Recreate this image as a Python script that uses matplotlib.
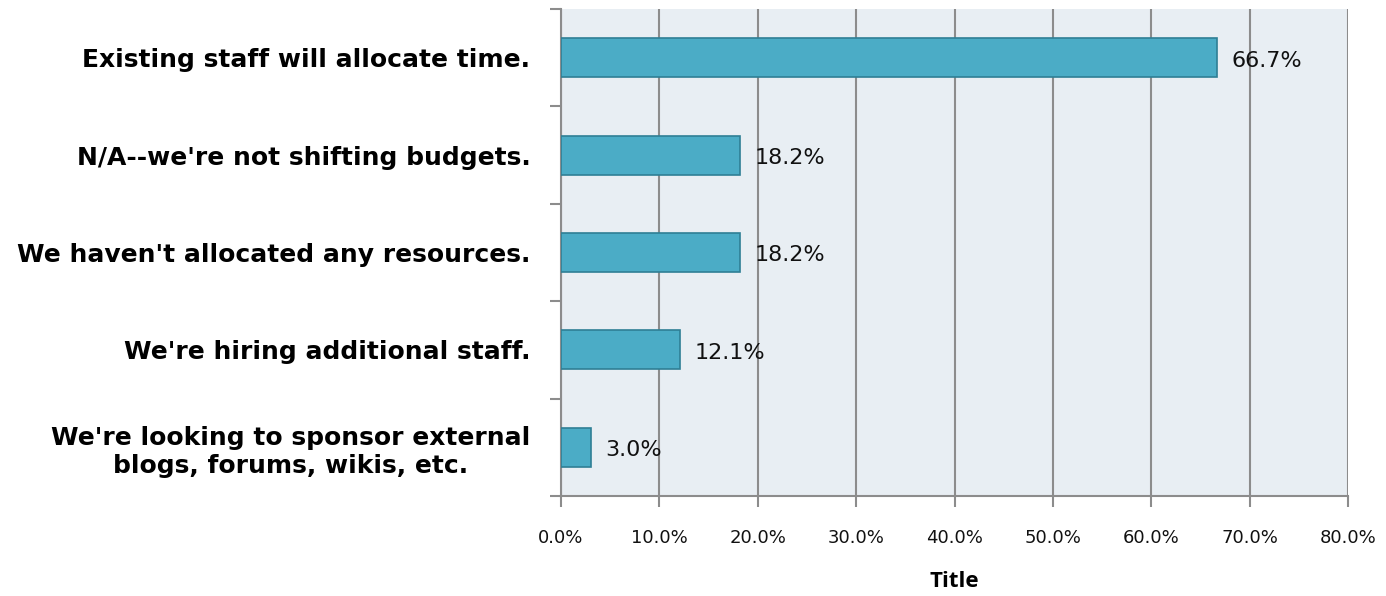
import matplotlib.pyplot as plt
import numpy as np
from matplotlib.ticker import FixedLocator, PercentFormatter

categories = [
    "Existing staff will allocate time.",
    "N/A--we're not shifting budgets.",
    "We haven't allocated any resources.",
    "We're hiring additional staff.",
    "We're looking to sponsor external\nblogs, forums, wikis, etc.",
]
values = [66.7, 18.2, 18.2, 12.1, 3.0]
x_ticks = [0, 10, 20, 30, 40, 50, 60, 70, 80]

BAR = "#4BACC6"
EDGE = "#2F7F95"
GRID = "#8C8C8C"
PLOT_BG = "#E8EEF3"

fig = plt.figure(figsize=(13.86, 5.96), dpi=100)
ax = fig.add_axes([0.4048, 0.1678, 0.5678, 0.8172])
ax.set_facecolor(PLOT_BG)

y = np.arange(len(categories))
ax.barh(y, values, height=0.4, color=BAR, edgecolor=EDGE, linewidth=1.2, zorder=3)
ax.set_ylim(len(categories) - 0.5, -0.5)
ax.set_xlim(0, 80)

# value labels just right of each bar
for yi, v in zip(y, values):
    ax.text(v + 1.5, yi + 0.03, f"{v:.1f}%", va="center", ha="left", fontsize=16,
            family="DejaVu Sans", color="#111111", zorder=4)

ax.set_yticks(y)
ax.set_yticklabels(categories, fontsize=18, fontweight="bold", family="DejaVu Sans",
                   multialignment="center", color="#000000")
# tick marks sit between categories
ax.yaxis.set_minor_locator(FixedLocator(np.arange(-0.5, len(categories), 1.0)))
ax.tick_params(axis="y", which="major", length=0, pad=22)
ax.tick_params(axis="y", which="minor", length=8, width=1.5, color=GRID)

ax.set_xticks(x_ticks)
ax.xaxis.set_major_formatter(PercentFormatter(decimals=1))
ax.tick_params(axis="x", length=8, width=1.5, color=GRID, labelsize=13, pad=16,
               labelcolor="#111111")
ax.grid(axis="x", color=GRID, linewidth=1.5, zorder=1)

for side in ("top", "right"):
    ax.spines[side].set_visible(False)
for side in ("left", "bottom"):
    ax.spines[side].set_color(GRID)
    ax.spines[side].set_linewidth(1.5)

ax.set_xlabel("Title", fontsize=16, fontweight="bold", family="Open Sans", labelpad=17)

fig.savefig("out.png", dpi=100)
